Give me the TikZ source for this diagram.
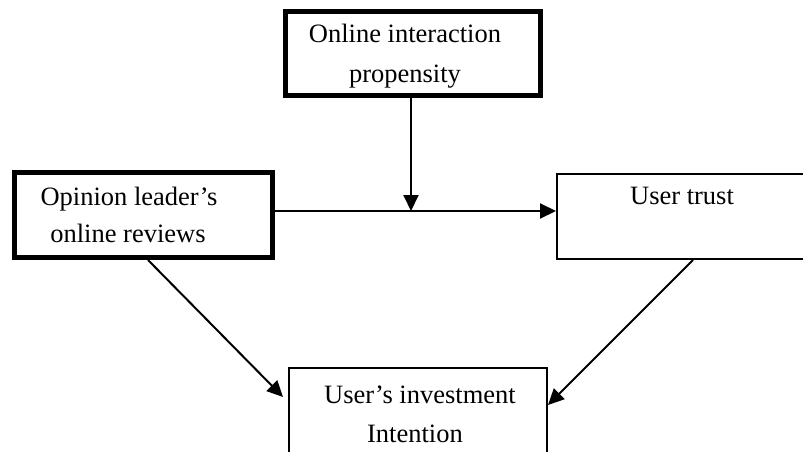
\documentclass[tikz,border=0pt]{standalone}
\usepackage{fontspec}
\setmainfont{Liberation Serif}
\usetikzlibrary{arrows.meta}
\begin{document}
\begin{tikzpicture}[x=1pt,y=-1pt,
  thickbox/.style={draw=black,line width=5pt,minimum width=#1,inner sep=0pt},
  thinbox/.style={draw=black,line width=2pt,inner sep=0pt},
  lbl/.style={anchor=base,inner sep=0pt,font=\fontsize{26.5}{39}\selectfont},
  arr/.style={line width=2pt,-{Triangle[length=16pt,width=15pt]}}]
\useasboundingbox (0,0) rectangle (803,452);
\clip (0,0) rectangle (803,452);
\fill[white] (0,0) rectangle (803,452);
% boxes
\node[thickbox=255pt,minimum height=83pt] (tb) at (412.5,53.5) {};
\node[thickbox=258pt,minimum height=85pt] (lb) at (143.5,215) {};
\node[thinbox,minimum width=263pt,minimum height=85pt] (rb) at (688.5,216.5) {};
\node[thinbox,minimum width=258pt,minimum height=112pt] (bb) at (418,424) {};
% texts
\node[lbl] (t1) at (405,43) {Online interaction};
\node[lbl] (t2) at (405,82) {propensity};
\node[lbl] (l1) at (129,205) {Opinion leader’s};
\node[lbl] (l2) at (128,242) {online reviews};
\node[lbl] (r1) at (682,204) {User trust};
\node[lbl] (b1) at (420,403) {User’s investment};
\node[lbl] (b2) at (415,442) {Intention};
% connectors
\coordinate (hs) at ([yshift=4pt]lb.east);
\draw[arr] (hs) -- (hs -| rb.west);
\draw[arr] ([xshift=-1.5pt]tb.south) -- ([xshift=-1.5pt]tb.south |- hs);
\draw[arr] ([xshift=4.5pt]lb.south) -- ([xshift=-5pt,yshift=27pt]bb.west);
\draw[arr] ([xshift=4.5pt]rb.south) -- ([yshift=19pt]bb.east);
\end{tikzpicture}
\end{document}
